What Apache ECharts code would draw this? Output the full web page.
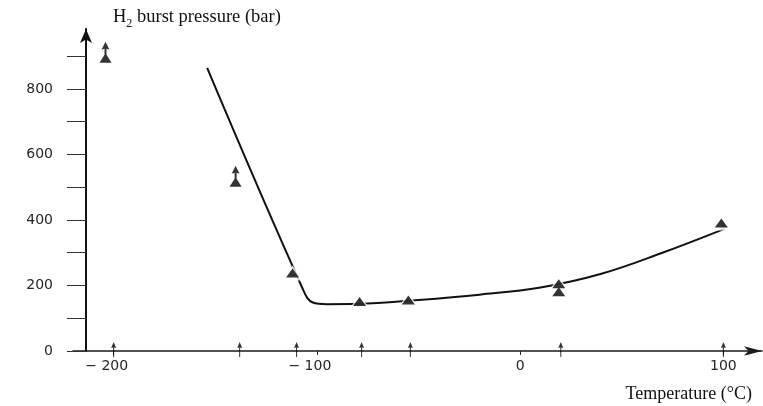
<!DOCTYPE html>
<html><head><meta charset="utf-8">
<script src="https://cdn.jsdelivr.net/npm/echarts@6/dist/echarts.min.js"></script>
<style>html,body{margin:0;padding:0;background:#ffffff}#c{width:763px;height:406px}</style>
</head><body><div id="c"></div>
<script>
// ---- data ----
const xTickValues = [-200, -100, 0, 100];
const yTickValues = [0, 100, 200, 300, 400, 500, 600, 700, 800, 900];
const yLabelValues = [0, 200, 400, 600, 800];
// fitted curve
const curveTemps  = [-154, -107, -102, -95, -80, -50, -20, 10, 40, 70, 100.5];
const curveValues = [864, 190, 148, 143, 144, 156, 172, 194, 236, 300, 373];
// measured burst pressures (triangles)
const pointTemps  = [-112, -79, -55, 19, 19, 99];
const pointValues = [238, 151, 156, 205, 181, 391];
// lower-bound results (triangle with arrow: no burst)
const lowerTemps  = [-204, -140];
const lowerValues = [892, 514];
// test temperatures marked on the axis
const testTemps = [-200, -138, -110, -78, -54, 20, 100];

const zip = (a, b) => a.map((v, i) => [v, b[i]]);

const arrowTri = 'path://M6,0 L10,8 L7,7 L7,13 L12,21 L0,21 L5,13 L5,7 L2,8 Z';
const smallArrow = 'path://M2.5,0 L5,6 L3,5.5 L3,15 L2,15 L2,5.5 L0,6 Z';

const chart = echarts.init(document.getElementById('c'), null, {renderer: 'canvas'});
chart.setOption({
  backgroundColor: '#ffffff',
  animation: false,
  grid: {left: 73, right: 1, top: 29, bottom: 55, containLabel: false},
  xAxis: {
    type: 'value', min: -220, max: 119,
    axisLine: {show: true, onZero: false, symbol: ['none', 'arrow'], symbolSize: [7, 18],
      lineStyle: {color: '#1a1a1a', width: 1.5}},
    axisTick: {show: true, inside: false, length: 4, customValues: xTickValues,
      lineStyle: {color: '#222', width: 1}},
    axisLabel: {
      customValues: xTickValues, margin: 8,
      fontFamily: 'DejaVu Sans', fontSize: 14, color: '#262626',
      formatter: v => v < 0 ? '\u2212 ' + Math.abs(v) + '{pad|}' : String(v),
      rich: {pad: {width: 14}}
    },
    splitLine: {show: false}
  },
  yAxis: {
    type: 'value', min: 0, max: 983, offset: -13,
    axisLine: {show: true, onZero: false, symbol: ['none', 'arrow'], symbolSize: [9, 14],
      lineStyle: {color: '#111', width: 2}},
    axisTick: {show: true, inside: false, length: 19, customValues: yTickValues,
      lineStyle: {color: '#333', width: 1}},
    axisLabel: {
      customValues: yLabelValues, margin: 33, padding: [0, 0, 8, 0],
      fontFamily: 'DejaVu Sans', fontSize: 14, color: '#262626'
    },
    splitLine: {show: false}
  },
  graphic: [
    {type: 'text', left: 113, top: 8, style: {
      text: '{a|H}{s|2}{a| burst pressure (bar)}',
      rich: {
        a: {fontFamily: 'Liberation Serif', fontSize: 18.5, lineHeight: 24, fill: '#111'},
        s: {fontFamily: 'Liberation Serif', fontSize: 12, lineHeight: 12, verticalAlign: 'bottom', fill: '#111'}
      }}},
    {type: 'text', right: 11, top: 385, style: {
      text: 'Temperature (\u00b0C)', fontFamily: 'Liberation Serif', fontSize: 18, fill: '#111'}}
  ],
  series: [
    {type: 'line', data: zip(curveTemps, curveValues), showSymbol: false, smooth: 0.4,
      clip: false, lineStyle: {color: '#111', width: 2}, silent: true, z: 2},
    {type: 'scatter', data: zip(pointTemps, pointValues), symbol: 'triangle', symbolSize: [20, 15],
      itemStyle: {color: '#ffffff'}, silent: true, z: 3},
    {type: 'scatter', data: zip(pointTemps, pointValues), symbol: 'triangle', symbolSize: [13, 9],
      itemStyle: {color: '#000000'}, silent: true, z: 4},
    {type: 'scatter', data: zip(lowerTemps, lowerValues), symbol: arrowTri, symbolSize: [12, 21],
      symbolOffset: [0, -6.5], itemStyle: {color: '#000000'}, silent: true, z: 4},
    {type: 'scatter', data: testTemps.map(t => [t, 0]), symbol: smallArrow, symbolSize: [5, 15],
      symbolOffset: [0, -1.5], clip: false, itemStyle: {color: '#000000'}, silent: true, z: 5}
  ]
});
</script>
</body></html>
